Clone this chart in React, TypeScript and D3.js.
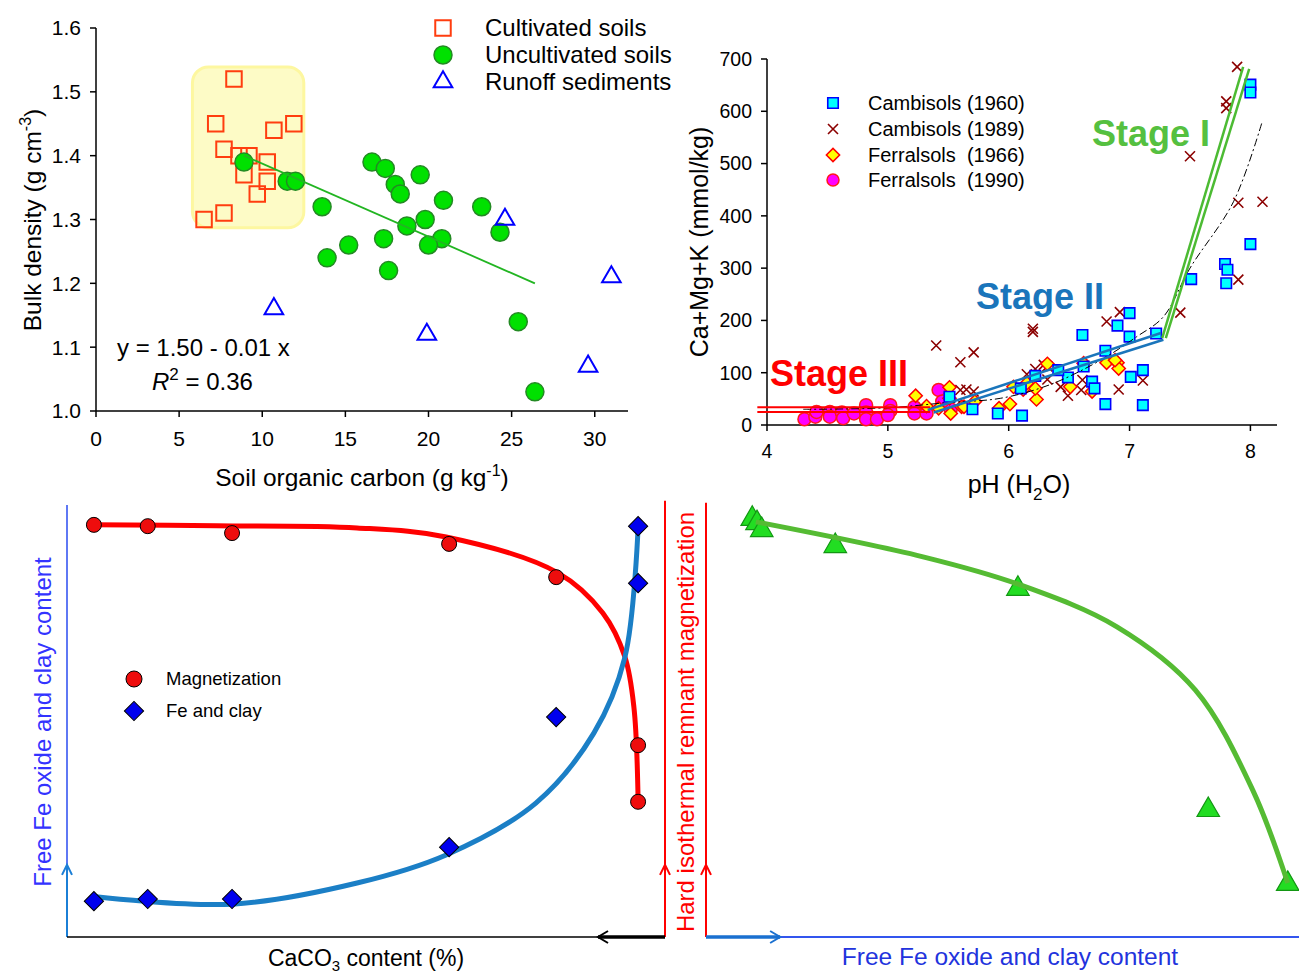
import React from 'react'
import * as d3 from 'd3'

const FONT = "Arial, 'Liberation Sans', Helvetica, sans-serif"

// ---- top left: bulk density vs soil organic carbon
const cultivated = [[8.3, 1.52], [7.2, 1.45], [10.7, 1.44], [11.9, 1.45], [7.7, 1.41], [8.6, 1.40], [9.2, 1.40], [10.3, 1.39], [8.9, 1.37], [10.3, 1.36], [9.7, 1.34], [6.5, 1.30], [7.7, 1.31]]
const uncultivated = [[8.9, 1.39], [11.5, 1.36], [12.0, 1.36], [13.6, 1.32], [16.6, 1.39], [17.4, 1.38], [19.5, 1.37], [18.0, 1.355], [18.3, 1.34], [20.9, 1.33], [23.2, 1.32], [19.8, 1.30], [18.7, 1.29], [17.3, 1.27], [20.8, 1.27], [20.0, 1.26], [15.2, 1.26], [13.9, 1.24], [17.6, 1.22], [24.3, 1.28], [25.4, 1.14], [26.4, 1.03]]
const runoff = [[24.6, 1.30], [31.0, 1.21], [19.9, 1.12], [29.6, 1.07], [10.7, 1.16]]
const fitLine = [[8.9, 1.40], [26.4, 1.20]]
const highlightBox = [[5.8, 1.539], [12.5, 1.287]]
const socTicks = [0, 5, 10, 15, 20, 25, 30]
const bdTicks = [1.0, 1.1, 1.2, 1.3, 1.4, 1.5, 1.6]
const legendTL = ['Cultivated soils', 'Uncultivated soils', 'Runoff sediments']

// ---- top right: Ca+Mg+K vs pH
const camb1960 = [[8.0, 651], [8.0, 636], [8.0, 346], [7.51, 279], [7.79, 308], [7.81, 297], [7.80, 271], [7.22, 175], [7.0, 214], [6.9, 190], [6.61, 172], [7.0, 169], [6.8, 142], [7.11, 105], [7.01, 92], [6.62, 112], [6.69, 83], [6.71, 70], [6.49, 91], [6.41, 105], [6.22, 94], [6.10, 70], [6.80, 40], [7.11, 38], [6.11, 18], [5.91, 22], [5.70, 30], [5.51, 54]]
const camb1989 = [[7.89, 685], [7.80, 619], [7.80, 606], [7.50, 514], [7.90, 425], [8.10, 427], [7.90, 278], [7.42, 215], [6.81, 198], [6.92, 216], [6.20, 184], [6.20, 178], [5.71, 139], [5.60, 120], [5.40, 152], [7.11, 85], [6.91, 68], [6.22, 107], [6.32, 112], [6.43, 73], [6.49, 56], [6.60, 67], [6.70, 70], [6.61, 86], [6.32, 87], [5.65, 68], [5.71, 64], [5.60, 67], [6.29, 115], [6.15, 97]]
const ferr1966 = [[5.23, 56], [5.32, 36], [5.51, 72], [5.51, 51], [5.42, 32], [5.61, 35], [5.52, 22], [6.32, 117], [6.01, 40], [5.92, 32], [6.23, 49], [6.22, 70], [6.12, 68], [6.04, 73], [6.81, 119], [6.90, 119], [6.91, 108], [6.62, 118], [6.51, 73], [6.69, 64], [5.63, 35], [5.72, 45], [6.15, 80], [6.88, 124]]
const ferr1990 = [[4.31, 11], [4.40, 16], [4.41, 25], [4.52, 25], [4.52, 16], [4.62, 24], [4.63, 13], [4.72, 22], [4.82, 38], [4.82, 24], [4.82, 11], [4.91, 11], [5.02, 38], [5.02, 27], [5.00, 19], [5.22, 34], [5.22, 22], [5.32, 22], [5.42, 67], [5.52, 30], [5.45, 45]]
const stage3 = [[[3.92, 34], [5.35, 34]], [[3.92, 25], [5.35, 25]]]
const stage2 = [[[5.33, 29], [7.26, 176]], [[5.38, 24], [7.28, 163]]]
const stage1 = [[[7.27, 166], [7.94, 685]], [[7.30, 166], [7.99, 681]]]
const trend = [[4.3, 30], [5.0, 33], [5.5, 43], [5.93, 51], [6.34, 77], [6.76, 124], [7.06, 169], [7.28, 207], [7.5, 300], [7.86, 427], [8.1, 582]]
const phTicks = [4, 5, 6, 7, 8]
const baseTicks = [0, 100, 200, 300, 400, 500, 600, 700]
const legendTR = ['Cambisols (1960)', 'Cambisols (1989)', 'Ferralsols  (1966)', 'Ferralsols  (1990)']

// ---- bottom left: schematic, CaCO3 content
const caco3 = [4.5, 13.5, 27.6, 63.9, 81.8, 95.5, 95.5]
const magnetization = [95.4, 95.1, 93.5, 91.0, 83.3, 44.4, 31.3]
const feClay = [8.3, 8.8, 8.8, 20.8, 50.9, 81.9, 95.1]
const magnetCurve = [[4.5, 95.4], [25, 95.2], [48.5, 94.7], [63.4, 92.6], [82.1, 84.3], [89.6, 75], [93.3, 64.8], [94.8, 53.2], [95.5, 31.7]]
const feCurve = [[4.8, 9.3], [27.6, 7.6], [48.5, 12.5], [63.4, 19.0], [78.4, 31.0], [88.1, 47.2], [93.3, 64.8], [95.5, 94.9]]

// ---- bottom right: schematic, HIRM vs Fe/clay
const feContent = [7.8, 8.6, 9.4, 21.8, 52.6, 84.7, 98.1]
const hirm = [96.8, 95.8, 94.2, 90.5, 80.6, 29.4, 12.3]
const hirmCurve = [[8.4, 96.1], [36.6, 88.0], [53.0, 81.5], [69.3, 71.8], [82.5, 57.2], [92.2, 34.0], [98.1, 12.5]]

const sym = (type, size) => d3.symbol().type(type).size(size)()
const crossPath = (r) => `M${-r},${-r}L${r},${r}M${-r},${r}L${r},${-r}`

const App = () => {
  // scales
  const x1 = d3.scaleLinear().domain([0, 32]).range([96, 628])
  const y1 = d3.scaleLinear().domain([1.0, 1.6]).range([411, 28])
  const x2 = d3.scaleLinear().domain([4, 8.22]).range([767, 1277])
  const y2 = d3.scaleLinear().domain([0, 700]).range([425, 59])
  const x3 = d3.scaleLinear().domain([0, 100]).range([67, 665])
  const y3 = d3.scaleLinear().domain([0, 100]).range([937, 505])
  const x4 = d3.scaleLinear().domain([0, 100]).range([706, 1299])
  const y4 = d3.scaleLinear().domain([0, 100]).range([937, 505])

  const line1 = d3.line().x(d => x1(d[0])).y(d => y1(d[1]))
  const line2 = d3.line().x(d => x2(d[0])).y(d => y2(d[1]))
  const trendLine = d3.line().x(d => x2(d[0])).y(d => y2(d[1])).curve(d3.curveCatmullRom)
  const line3 = d3.line().x(d => x3(d[0])).y(d => y3(d[1])).curve(d3.curveCatmullRom.alpha(0.5))
  const line4 = d3.line().x(d => x4(d[0])).y(d => y4(d[1])).curve(d3.curveCatmullRom.alpha(0.5))

  const sq16 = sym(d3.symbolSquare, 240)
  const sq11 = sym(d3.symbolSquare, 110)
  const tri = sym(d3.symbolTriangle, 150)
  const triBig = sym(d3.symbolTriangle, 220)
  const dia = sym(d3.symbolSquare, 88)
  const diaBig = sym(d3.symbolSquare, 185)

  const arrowUp = (x, y, color) => (
    <path d={`M${x - 5},${y + 10}L${x},${y}L${x + 5},${y + 10}`} fill="none" stroke={color} strokeWidth={2} />
  )

  return (
    <svg width={1299} height={973} style={{ position: 'absolute', left: 0, top: 0, background: '#fff' }} fontFamily={FONT}>
      {/* ================= top left ================= */}
      <rect x={x1(highlightBox[0][0])} y={y1(highlightBox[0][1])}
        width={x1(highlightBox[1][0]) - x1(highlightBox[0][0])}
        height={y1(highlightBox[1][1]) - y1(highlightBox[0][1])}
        rx={16} fill="#fdfbc6" stroke="#fdf7a0" strokeWidth={3} />
      <line x1={x1(0)} x2={x1(32)} y1={y1(1.0)} y2={y1(1.0)} stroke="#000" strokeWidth={1.5} />
      <line x1={x1(0)} x2={x1(0)} y1={y1(1.0)} y2={y1(1.6)} stroke="#000" strokeWidth={1.5} />
      {bdTicks.map(t => (
        <g key={t}>
          <line x1={x1(0) - 6} x2={x1(0)} y1={y1(t)} y2={y1(t)} stroke="#000" strokeWidth={1.5} />
          <text x={x1(0) - 15} y={y1(t)} dy="0.35em" textAnchor="end" fontSize={21}>{t.toFixed(1)}</text>
        </g>
      ))}
      {socTicks.map(t => (
        <g key={t}>
          <line x1={x1(t)} x2={x1(t)} y1={y1(1.0)} y2={y1(1.0) + 6} stroke="#000" strokeWidth={1.5} />
          <text x={x1(t)} y={446} textAnchor="middle" fontSize={21}>{t}</text>
        </g>
      ))}
      <text transform="translate(41,220) rotate(-90)" textAnchor="middle" fontSize={24.5}>
        Bulk density (g cm<tspan fontSize={16} dy={-10}>-3</tspan><tspan dy={10}>)</tspan>
      </text>
      <text x={362} y={486} textAnchor="middle" fontSize={24.5}>
        Soil organic carbon (g kg<tspan fontSize={16} dy={-10}>-1</tspan><tspan dy={10}>)</tspan>
      </text>
      {cultivated.map((d, i) => (
        <path key={i} d={sq16} transform={`translate(${x1(d[0])},${y1(d[1])})`} fill="none" stroke="#ff3d0f" strokeWidth={2} />
      ))}
      {uncultivated.map((d, i) => (
        <circle key={i} cx={x1(d[0])} cy={y1(d[1])} r={9} fill="#00e100" stroke="#238a23" strokeWidth={1.5} />
      ))}
      <path d={line1(fitLine)} stroke="#22b522" strokeWidth={1.8} fill="none" />
      {runoff.map((d, i) => (
        <path key={i} d={tri} transform={`translate(${x1(d[0])},${y1(d[1])})`} fill="none" stroke="#0000ff" strokeWidth={2} />
      ))}
      <path d={sq16} transform="translate(443,28)" fill="none" stroke="#ff3d0f" strokeWidth={2} />
      <circle cx={443} cy={55} r={9} fill="#00e100" stroke="#238a23" strokeWidth={1.5} />
      <path d={tri} transform="translate(443,82)" fill="none" stroke="#0000ff" strokeWidth={2} />
      {legendTL.map((s, i) => (
        <text key={s} x={485} y={28 + i * 27} dy="0.35em" fontSize={24}>{s}</text>
      ))}
      <text x={117} y={356} fontSize={24}>y = 1.50 - 0.01 x</text>
      <text x={152} y={390} fontSize={24}>
        <tspan fontStyle="italic">R</tspan><tspan fontSize={17} dy={-10}>2</tspan><tspan dy={10}> = 0.36</tspan>
      </text>

      {/* ================= top right ================= */}
      <line x1={x2(4)} x2={x2(8.22)} y1={y2(0)} y2={y2(0)} stroke="#000" strokeWidth={1.5} />
      <line x1={x2(4)} x2={x2(4)} y1={y2(0)} y2={y2(700)} stroke="#000" strokeWidth={1.5} />
      {baseTicks.map(t => (
        <g key={t}>
          <line x1={x2(4) - 6} x2={x2(4)} y1={y2(t)} y2={y2(t)} stroke="#000" strokeWidth={1.5} />
          <text x={x2(4) - 15} y={y2(t)} dy="0.35em" textAnchor="end" fontSize={19.5}>{t}</text>
        </g>
      ))}
      {phTicks.map(t => (
        <g key={t}>
          <line x1={x2(t)} x2={x2(t)} y1={y2(0)} y2={y2(0) + 6} stroke="#000" strokeWidth={1.5} />
          <text x={x2(t)} y={458} textAnchor="middle" fontSize={19.5}>{t}</text>
        </g>
      ))}
      <text transform="translate(708,242) rotate(-90)" textAnchor="middle" fontSize={25}>Ca+Mg+K (mmol/kg)</text>
      <text x={1019} y={493} textAnchor="middle" fontSize={25}>
        pH (H<tspan fontSize={17} dy={7}>2</tspan><tspan dy={-7}>O)</tspan>
      </text>
      {camb1989.map((d, i) => (
        <path key={i} d={crossPath(5)} transform={`translate(${x2(d[0])},${y2(d[1])})`} stroke="#8b0000" strokeWidth={1.6} fill="none" />
      ))}
      {ferr1990.map((d, i) => (
        <circle key={i} cx={x2(d[0])} cy={y2(d[1])} r={6.5} fill="#ff00ff" stroke="#ff1a1a" strokeWidth={1.5} />
      ))}
      {ferr1966.map((d, i) => (
        <path key={i} d={dia} transform={`translate(${x2(d[0])},${y2(d[1])}) rotate(45)`} fill="#ffff00" stroke="#ff0000" strokeWidth={1.5} />
      ))}
      {camb1960.map((d, i) => (
        <path key={i} d={sq11} transform={`translate(${x2(d[0])},${y2(d[1])})`} fill="#00ffff" stroke="#0000ff" strokeWidth={1.6} />
      ))}
      <path d={trendLine(trend)} fill="none" stroke="#000" strokeWidth={1} strokeDasharray="8,3,2,3" />
      {stage3.map((s, i) => <path key={i} d={line2(s)} stroke="#ff0000" strokeWidth={2} fill="none" />)}
      {stage2.map((s, i) => <path key={i} d={line2(s)} stroke="#1a75bb" strokeWidth={2.5} fill="none" />)}
      {stage1.map((s, i) => <path key={i} d={line2(s)} stroke="#4cbb33" strokeWidth={2.5} fill="none" />)}
      <text x={770} y={386} fontSize={36} fontWeight="bold" fill="#ff0000">Stage III</text>
      <text x={976} y={309} fontSize={36} fontWeight="bold" fill="#1a75bb">Stage II</text>
      <text x={1092} y={146} fontSize={36} fontWeight="bold" fill="#55c040">Stage I</text>
      <path d={sq11} transform="translate(833,103)" fill="#00ffff" stroke="#0000ff" strokeWidth={1.6} />
      <path d={crossPath(5)} transform="translate(833,129)" stroke="#8b0000" strokeWidth={1.6} />
      <path d={dia} transform="translate(833,155) rotate(45)" fill="#ffff00" stroke="#ff0000" strokeWidth={1.5} />
      <circle cx={833} cy={180} r={6} fill="#ff00ff" stroke="#ff1a1a" strokeWidth={1.5} />
      {legendTR.map((s, i) => (
        <text key={s} x={868} y={[103, 129, 155, 180][i]} dy="0.35em" fontSize={20} style={{ whiteSpace: 'pre' }}>{s}</text>
      ))}

      {/* ================= bottom left ================= */}
      <line x1={x3(0)} x2={x3(0)} y1={y3(0)} y2={y3(100)} stroke="#2a4bf0" strokeWidth={1.5} />
      <line x1={x3(0)} x2={x3(0)} y1={y3(0)} y2={y3(16.7)} stroke="#1b7fd6" strokeWidth={2} />
      {arrowUp(x3(0), y3(16.7), '#1b7fd6')}
      <line x1={x3(100)} x2={x3(100)} y1={y3(0)} y2={y3(101)} stroke="#ff0000" strokeWidth={2} />
      {arrowUp(x3(100), y3(16.7), '#ff0000')}
      <line x1={x3(0)} x2={x3(100)} y1={y3(0)} y2={y3(0)} stroke="#000" strokeWidth={1.5} />
      <line x1={x3(88.8)} x2={x3(100)} y1={y3(0)} y2={y3(0)} stroke="#000" strokeWidth={3.5} />
      <path d={`M${x3(88.8) + 10},${y3(0) - 6}L${x3(88.8)},${y3(0)}L${x3(88.8) + 10},${y3(0) + 6}`} fill="none" stroke="#000" strokeWidth={2} />
      <path d={line3(magnetCurve)} fill="none" stroke="#ff0000" strokeWidth={5} />
      <path d={line3(feCurve)} fill="none" stroke="#1b7fc6" strokeWidth={5} />
      {caco3.map((x, i) => (
        <circle key={i} cx={x3(x)} cy={y3(magnetization[i])} r={7.5} fill="#ee0d0d" stroke="#000" strokeWidth={1} />
      ))}
      {caco3.map((x, i) => (
        <path key={i} d={diaBig} transform={`translate(${x3(x)},${y3(feClay[i])}) rotate(45)`} fill="#0000ee" stroke="#000" strokeWidth={1} />
      ))}
      <circle cx={134} cy={679} r={8} fill="#ee0d0d" stroke="#000" strokeWidth={1} />
      <path d={diaBig} transform="translate(134,711) rotate(45)" fill="#0000ee" stroke="#000" strokeWidth={1} />
      <text x={166} y={679} dy="0.35em" fontSize={18.5}>Magnetization</text>
      <text x={166} y={711} dy="0.35em" fontSize={18.5}>Fe and clay</text>
      <text transform="translate(51,722) rotate(-90)" textAnchor="middle" fontSize={24} fill="#3333ff">Free Fe oxide and clay content</text>
      <text transform="translate(694,722) rotate(-90)" textAnchor="middle" fontSize={24} fill="#ff0000">Hard isothermal remnant magnetization</text>
      <text x={366} y={966} textAnchor="middle" fontSize={23}>
        CaCO<tspan fontSize={15} dy={5}>3</tspan><tspan dy={-5}> content (%)</tspan>
      </text>

      {/* ================= bottom right ================= */}
      <line x1={x4(0)} x2={x4(0)} y1={y4(0)} y2={y4(100.5)} stroke="#ff0000" strokeWidth={2} />
      {arrowUp(x4(0), y4(16.7), '#ff0000')}
      <line x1={x4(0)} x2={x4(100)} y1={y4(0)} y2={y4(0)} stroke="#3355ee" strokeWidth={2} />
      <line x1={x4(0)} x2={x4(12.5)} y1={y4(0)} y2={y4(0)} stroke="#1a70d0" strokeWidth={3.5} />
      <path d={`M${x4(12.5) - 10},${y4(0) - 6}L${x4(12.5)},${y4(0)}L${x4(12.5) - 10},${y4(0) + 6}`} fill="none" stroke="#1a70d0" strokeWidth={2} />
      {feContent.map((x, i) => (
        <path key={i} d={triBig} transform={`translate(${x4(x)},${y4(hirm[i])})`} fill="#22dd22" stroke="#139613" strokeWidth={1.2} />
      ))}
      <path d={line4(hirmCurve)} fill="none" stroke="#55bb33" strokeWidth={5} />
      <text x={1010} y={965} textAnchor="middle" fontSize={24.5} fill="#2233dd">Free Fe oxide and clay content</text>
    </svg>
  )
}

export default App
